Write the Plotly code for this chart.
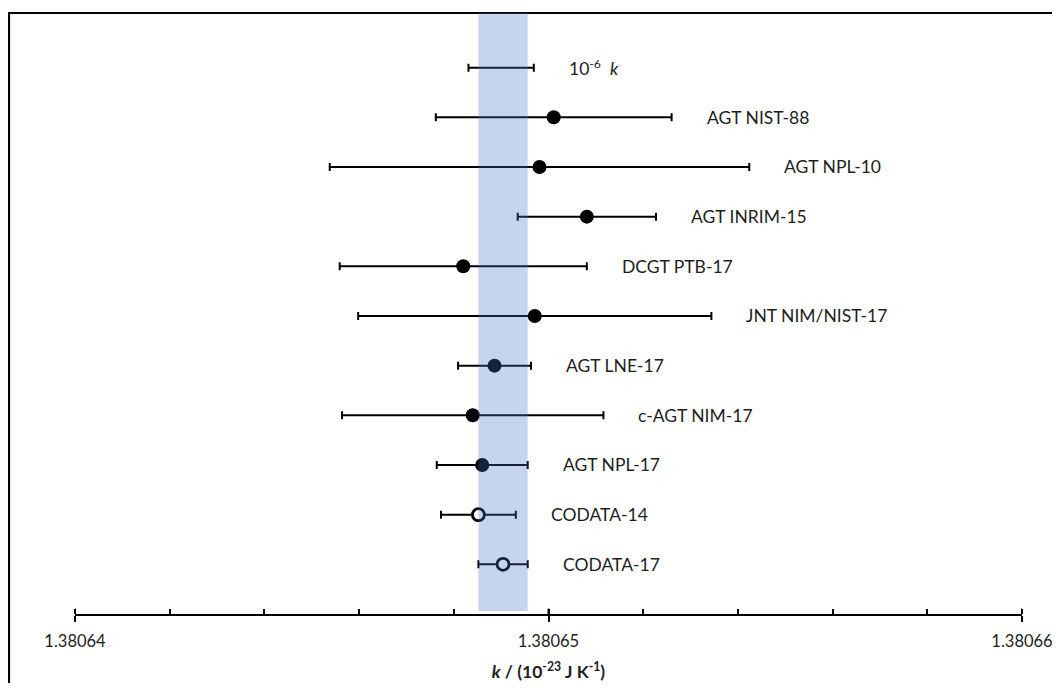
import plotly.graph_objects as go

# ---- data (k in units of 1e-23 J/K) ----
labels = ["10<sup>-6</sup>  <i>k</i>", "AGT NIST-88", "AGT NPL-10", "AGT INRIM-15",
          "DCGT PTB-17", "JNT NIM/NIST-17", "AGT LNE-17", "c-AGT NIM-17",
          "AGT NPL-17", "CODATA-14", "CODATA-17"]
k_values = [1.38064900, 1.38065011, 1.38064981, 1.38065081, 1.38064820, 1.38064971,
            1.38064886, 1.38064840, 1.38064860, 1.38064852, 1.38064904]
k_unc = [0.69e-6, 2.49e-6, 4.43e-6, 1.46e-6, 2.61e-6, 3.73e-6,
         0.77e-6, 2.76e-6, 0.96e-6, 0.79e-6, 0.52e-6]
kind = ["scale", "meas", "meas", "meas", "meas", "meas",
        "meas", "meas", "meas", "codata", "codata"]
x_ticks = [1.38064, 1.38065, 1.38066]

n = len(labels)
ypos = [n - 1 - i for i in range(n)]

FONT = "Lato"
TXT = "#1e1e1e"
FS = 17.5

fig = go.Figure()

def add_group(sel, marker):
    idx = [i for i in range(n) if kind[i] == sel]
    fig.add_trace(go.Scatter(
        x=[k_values[i] for i in idx],
        y=[ypos[i] for i in idx],
        mode="markers",
        marker=marker,
        error_x=dict(type="data", array=[k_unc[i] for i in idx], symmetric=True,
                     color="black", thickness=2, width=4),
        showlegend=False, hoverinfo="skip",
    ))

add_group("scale", dict(size=1, color="rgba(0,0,0,0)"))
add_group("meas", dict(size=14, color="black", line=dict(width=0)))
add_group("codata", dict(size=12, color="white", line=dict(width=2.8, color="black")))

# labels to the right of each error bar
for i in range(n):
    fig.add_annotation(x=k_values[i] + k_unc[i], y=ypos[i], text=labels[i],
                       showarrow=False, xanchor="left", yanchor="middle", xshift=33,
                       font=dict(family=FONT, size=FS, color=TXT))

# CODATA-17 band
ci = labels.index("CODATA-17")
fig.add_shape(type="rect", xref="x", yref="paper",
              x0=k_values[ci] - k_unc[ci], x1=k_values[ci] + k_unc[ci],
              y0=0.005, y1=1.0, fillcolor="rgba(68,114,196,0.3)",
              line=dict(width=0), layer="above")

# crossing part of the major ticks (inside)
for t in x_ticks:
    fig.add_shape(type="line", xref="x", yref="paper", x0=t, x1=t, y0=0, y1=0.009,
                  line=dict(color="black", width=2))

# outer frame
fig.add_shape(type="rect", xref="paper", yref="paper", x0=-0.0697, x1=1.2,
              y0=-0.3, y1=1.0, line=dict(color="black", width=2.2), layer="below")

# the page has an 8px body margin: the figure starts at (8, 8) and is sized
# so that the page does not overflow the 1060x695 window
fig.update_layout(
    width=1052, height=675,
    margin=dict(l=67, r=38, t=5, b=69),
    paper_bgcolor="white", plot_bgcolor="white",
    xaxis=dict(range=[x_ticks[0], x_ticks[-1]], tickvals=x_ticks, tickformat=".5f",
               showgrid=False, zeroline=False, showline=True, linecolor="black", linewidth=2,
               ticks="outside", ticklen=6, tickwidth=2, tickcolor="black",
               ticklabelstandoff=5,
               minor=dict(dtick=2e-6, ticks="inside", ticklen=5, tickwidth=1.5,
                          tickcolor="black", showgrid=False),
               tickfont=dict(family=FONT, size=16.5, color=TXT),
               title=dict(text="<b><i>k</i> / (10<sup>-23</sup> J K<sup>-1</sup>)</b>",
                          font=dict(family=FONT, size=FS, color=TXT), standoff=16)),
    yaxis=dict(range=[-1, 11.1], visible=False, showgrid=False, zeroline=False),
)

fig.write_html("out.html")
